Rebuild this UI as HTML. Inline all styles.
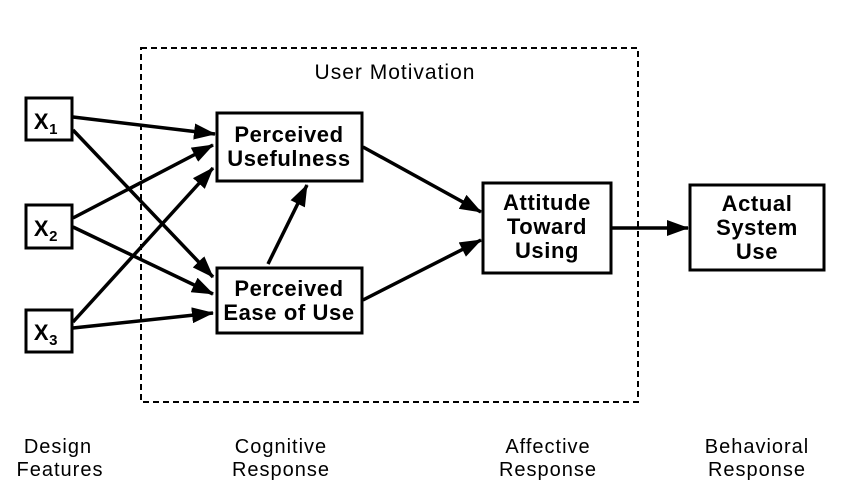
<!DOCTYPE html><html><head><style>body{margin:0;background:#fff}svg{display:block}text{font-family:"Liberation Sans",sans-serif;fill:#000}</style></head><body>
<svg width="841" height="492" viewBox="0 0 841 492">
<defs>
<marker id="b" viewBox="0 0 22 16" refX="21" refY="8" markerWidth="22" markerHeight="16" orient="auto" markerUnits="userSpaceOnUse"><path d="M0,0L22,8L0,16z"/></marker></defs>
<rect x="141" y="48" width="497" height="354" fill="none" stroke="#000" stroke-width="2" stroke-dasharray="6,4"/>
<text x="395" y="79" font-size="21" letter-spacing="1" text-anchor="middle">User Motivation</text>
<g fill="none" stroke="#000" stroke-width="3">
<rect x="26" y="98" width="46" height="42"/><rect x="26" y="205" width="46" height="43"/><rect x="26" y="310" width="46" height="42"/>
<rect x="217" y="113" width="145" height="68"/><rect x="217" y="268" width="145" height="65"/>
<rect x="483" y="183" width="128" height="90"/><rect x="690" y="185" width="134" height="85"/>
</g>
<g stroke="#000" stroke-width="3.5" marker-end="url(#b)">
<line x1="73" y1="117" x2="215" y2="134"/><line x1="73" y1="130" x2="213" y2="277"/>
<line x1="73" y1="218" x2="213" y2="145"/><line x1="73" y1="227" x2="213" y2="294"/>
<line x1="73" y1="322" x2="213" y2="168"/><line x1="73" y1="328" x2="213" y2="313"/>
<line x1="268" y1="264" x2="307" y2="185"/><line x1="363" y1="147" x2="481" y2="212"/>
<line x1="363" y1="300" x2="481" y2="240"/><line x1="612" y1="228" x2="688" y2="228"/>
</g>
<g font-size="22" font-weight="bold" text-anchor="middle" letter-spacing="0.6">
<text x="46" y="129">X<tspan font-size="15" dy="5">1</tspan></text>
<text x="46" y="236">X<tspan font-size="15" dy="5">2</tspan></text>
<text x="46" y="340">X<tspan font-size="15" dy="5">3</tspan></text>
<text x="289" y="142">Perceived</text><text x="289" y="166">Usefulness</text>
<text x="289" y="296">Perceived</text><text x="289" y="320">Ease of Use</text>
<text x="547" y="210">Attitude</text><text x="547" y="234">Toward</text><text x="547" y="258">Using</text>
<text x="757" y="211">Actual</text><text x="757" y="235">System</text><text x="757" y="259">Use</text>
</g>
<g font-size="20" text-anchor="middle" letter-spacing="1">
<text x="58" y="453">Design</text><text x="60" y="476">Features</text>
<text x="281" y="453">Cognitive</text><text x="281" y="476">Response</text>
<text x="548" y="453">Affective</text><text x="548" y="476">Response</text>
<text x="757" y="453">Behavioral</text><text x="757" y="476">Response</text>
</g>
</svg></body></html>
